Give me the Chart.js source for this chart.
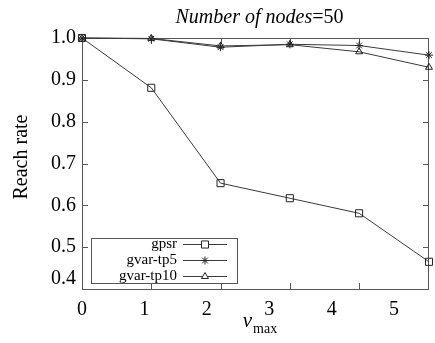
<!DOCTYPE html>
<html>
<head>
<meta charset="utf-8">
<script src="https://cdn.jsdelivr.net/npm/chart.js@4/dist/chart.umd.min.js"></script>
<style>
  body { margin: 0; background: #fff; }
</style>
</head>
<body>
<canvas id="mychart" width="435" height="343"></canvas>
<script>
// speeds (m/s) and reach rate per protocol
const vmax = [0, 1.11, 2.22, 3.33, 4.44, 5.56];
const gpsr = [1.0, 0.881, 0.653, 0.617, 0.581, 0.465];
const gvarTp5 = [1.0, 0.998, 0.978, 0.985, 0.982, 0.959];
const gvarTp10 = [1.0, 0.999, 0.981, 0.984, 0.967, 0.930];
const seriesNames = ['gpsr', 'gvar-tp5', 'gvar-tp10'];
const xTickLabels = [0, 1, 2, 3, 4, 5];
const yTickLabels = [0.4, 0.5, 0.6, 0.7, 0.8, 0.9, 1.0];

const serif = '"Liberation Serif", "DejaVu Serif", serif';
const ink = '#3a3a3a';

const toPoints = vals => vmax.map((x, i) => ({ x: x, y: vals[i] }));

const makeSet = (label, vals, style, r) => ({
    label: label,
    data: toPoints(vals),
    borderColor: ink,
    borderWidth: 1,
    pointStyle: style,
    pointRadius: r,
    pointBorderColor: '#222',
    pointBorderWidth: 1,
    pointBackgroundColor: 'rgba(0,0,0,0)',
    tension: 0,
    clip: false
});

// box round the plot and inward tick marks at the data speeds
const frame = {
    id: 'frame',
    beforeDatasetsDraw(chart) {
        const { ctx, chartArea: a, scales } = chart;
        ctx.save();
        ctx.strokeStyle = '#555';
        ctx.lineWidth = 1;
        ctx.strokeRect(a.left + 0.5, a.top + 0.5, a.right - a.left - 1, a.bottom - a.top);
        ctx.beginPath();
        vmax.slice(1, -1).forEach(v => {
            const x = Math.round(scales.x.getPixelForValue(v)) + 0.5;
            ctx.moveTo(x, a.bottom); ctx.lineTo(x, a.bottom - 6);
            ctx.moveTo(x, a.top); ctx.lineTo(x, a.top + 6);
        });
        yTickLabels.slice(1, -1).forEach(v => {
            const y = Math.round(scales.y.getPixelForValue(v)) + 0.5;
            ctx.moveTo(a.left, y); ctx.lineTo(a.left + 6, y);
            ctx.moveTo(a.right, y); ctx.lineTo(a.right - 6, y);
        });
        ctx.stroke();
        ctx.restore();
    }
};

// titles and the boxed legend
const texts = {
    id: 'texts',
    afterDraw(chart) {
        const { ctx, chartArea: a } = chart;
        ctx.save();
        ctx.fillStyle = '#000';
        ctx.textBaseline = 'alphabetic';

        // title: italic words, upright "=50"
        const cx = (a.left + a.right) / 2 + 4;
        ctx.font = 'italic 20px ' + serif;
        const w1 = ctx.measureText('Number of nodes').width;
        ctx.font = '20px ' + serif;
        const w2 = ctx.measureText('=50').width;
        let x0 = cx - (w1 + w2) / 2;
        ctx.textAlign = 'left';
        ctx.font = 'italic 20px ' + serif;
        ctx.fillText('Number of nodes', x0, 23);
        ctx.font = '20px ' + serif;
        ctx.fillText('=50', x0 + w1, 23);

        // x title: v with subscript max
        ctx.font = 'italic 21px ' + serif;
        const wv = ctx.measureText('v').width;
        ctx.font = '14px ' + serif;
        const wm = ctx.measureText('max').width;
        x0 = cx - (wv + wm) / 2;
        ctx.font = 'italic 21px ' + serif;
        ctx.fillText('v', x0, 327);
        ctx.font = '14px ' + serif;
        ctx.fillText('max', x0 + wv + 1, 333);

        // y title
        ctx.save();
        ctx.translate(27, 157);
        ctx.rotate(-Math.PI / 2);
        ctx.textAlign = 'center';
        ctx.font = '20px ' + serif;
        ctx.fillText('Reach rate', 0, 0);
        ctx.restore();

        // legend
        const lx = a.left + 9, ly = a.top + 200, lw = 146, lh = 45;
        ctx.fillStyle = '#fff';
        ctx.fillRect(lx, ly, lw, lh);
        ctx.strokeStyle = '#555';
        ctx.lineWidth = 1;
        ctx.strokeRect(lx + 0.5, ly + 0.5, lw, lh);
        chart.data.datasets.forEach((ds, i) => {
            const y = ly + 6 + i * 16;
            ctx.fillStyle = '#000';
            ctx.font = '15px ' + serif;
            ctx.textAlign = 'right';
            ctx.textBaseline = 'middle';
            ctx.fillText(ds.label, lx + 86, y);
            ctx.strokeStyle = ds.borderColor;
            ctx.beginPath();
            ctx.moveTo(lx + 92, y + 0.5);
            ctx.lineTo(lx + 136, y + 0.5);
            ctx.stroke();
            ctx.strokeStyle = ds.pointBorderColor;
            ctx.fillStyle = '#fff';
            Chart.helpers.drawPoint(ctx, {
                pointStyle: ds.pointStyle, radius: ds.pointRadius,
                borderWidth: 1, rotation: 0
            }, lx + 114, y + 0.5);
        });
        ctx.restore();
    }
};

const ctx = document.getElementById('mychart').getContext('2d');
let mychart = new Chart(ctx, {
    type: 'line',
    data: {
        datasets: [
            makeSet(seriesNames[0], gpsr, 'rect', 5),
            makeSet(seriesNames[1], gvarTp5, 'star', 4),
            makeSet(seriesNames[2], gvarTp10, 'triangle', 4)
        ]
    },
    options: {
        responsive: false,
        animation: false,
        layout: { padding: { top: 38, right: 3, left: 0, bottom: 0 } },
        plugins: { legend: { display: false }, tooltip: { enabled: false } },
        scales: {
            x: {
                type: 'linear',
                min: vmax[0],
                max: vmax[vmax.length - 1],
                afterFit: s => { s.height = 54; },
                grid: { display: false, drawTicks: false },
                border: { display: false },
                afterBuildTicks: s => { s.ticks = xTickLabels.map(v => ({ value: v })); },
                ticks: {
                    autoSkip: false, maxRotation: 0, padding: 9, color: '#000',
                    font: { family: serif, size: 20 },
                    callback: v => String(v)
                }
            },
            y: {
                min: yTickLabels[0],
                max: yTickLabels[yTickLabels.length - 1],
                afterFit: s => { s.width = 82; },
                grid: { display: false, drawTicks: false },
                border: { display: false },
                afterBuildTicks: s => { s.ticks = yTickLabels.map(v => ({ value: v })); },
                ticks: {
                    autoSkip: false, padding: 6, color: '#000',
                    font: { family: serif, size: 20, lineHeight: 1 },
                    callback: v => (v === yTickLabels[0] ? [v.toFixed(1), ''] : v.toFixed(1))
                }
            }
        }
    },
    plugins: [frame, texts]
});
</script>
</body>
</html>
